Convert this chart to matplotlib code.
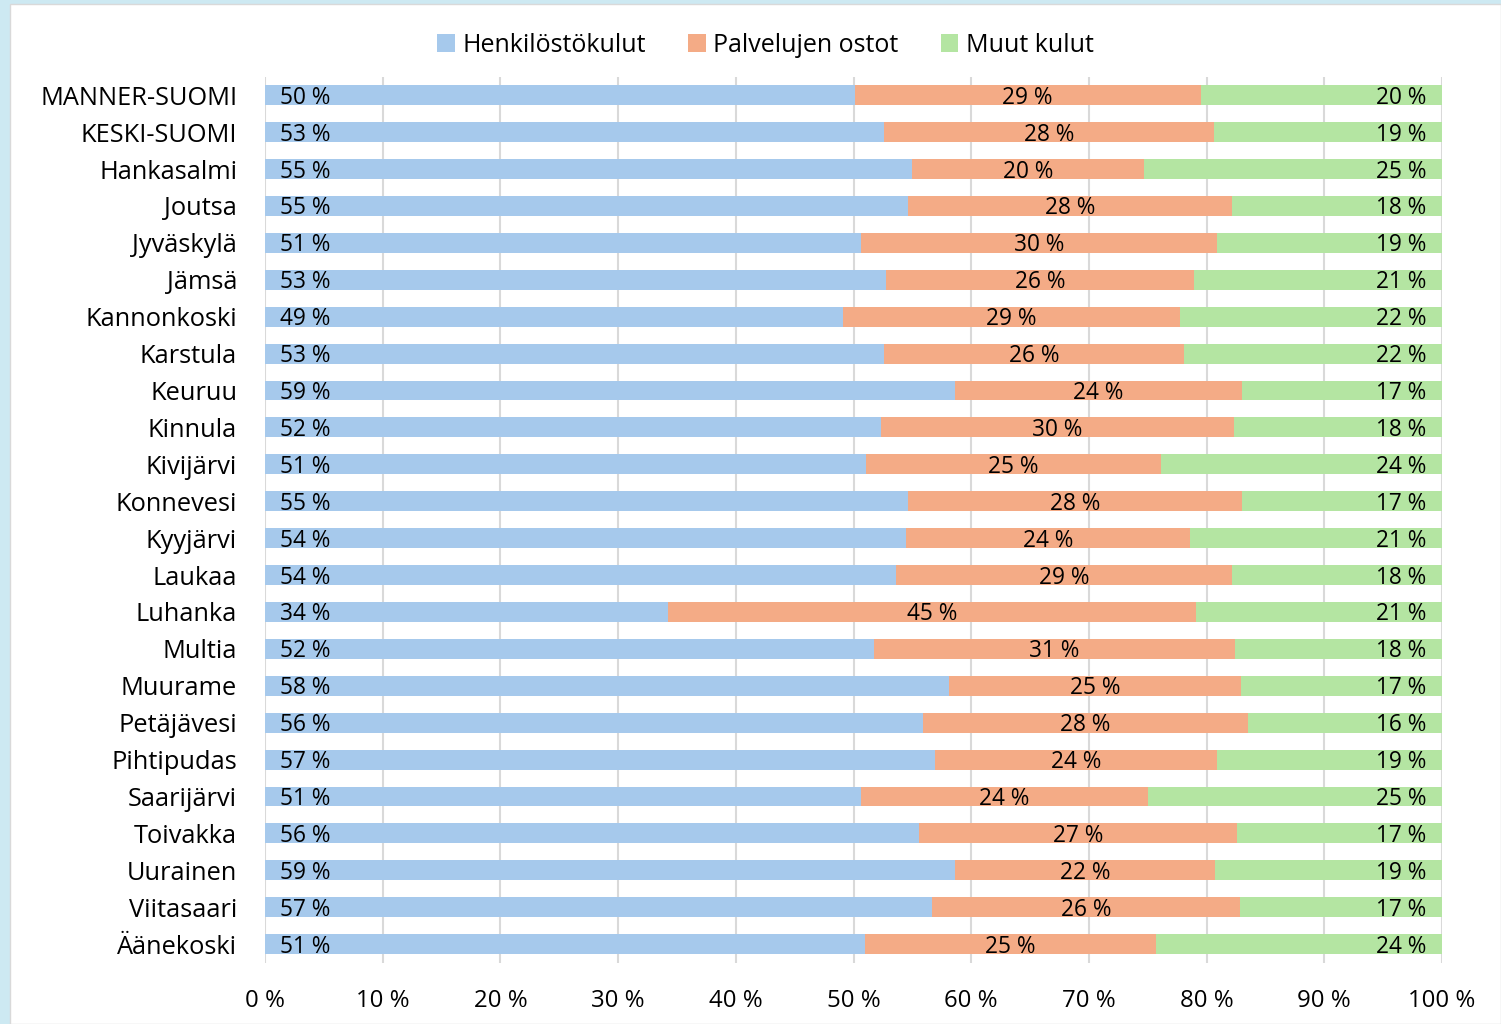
import matplotlib
matplotlib.use("Agg")
import matplotlib.pyplot as plt
from matplotlib.patches import Rectangle
from matplotlib.ticker import FuncFormatter

matplotlib.rcParams['font.family'] = ['Open Sans', 'DejaVu Sans']

kunnat = ["MANNER-SUOMI", "KESKI-SUOMI", "Hankasalmi", "Joutsa", "Jyväskylä", "Jämsä",
          "Kannonkoski", "Karstula", "Keuruu", "Kinnula", "Kivijärvi", "Konnevesi",
          "Kyyjärvi", "Laukaa", "Luhanka", "Multia", "Muurame", "Petäjävesi",
          "Pihtipudas", "Saarijärvi", "Toivakka", "Uurainen", "Viitasaari", "Äänekoski"]

henkilosto = [50.1, 52.6, 55.0, 54.6, 50.6, 52.8, 49.1, 52.6, 58.6, 52.3, 51.1, 54.6,
              54.5, 53.6, 34.2, 51.7, 58.1, 55.9, 56.9, 50.6, 55.6, 58.6, 56.7, 51.0]
palvelut = [29.4, 28.0, 19.7, 27.6, 30.3, 26.1, 28.6, 25.5, 24.4, 30.0, 25.0, 28.4,
            24.1, 28.6, 44.9, 30.7, 24.8, 27.6, 24.0, 24.4, 27.0, 22.1, 26.1, 24.7]
muut = [20.5, 19.4, 25.3, 17.8, 19.1, 21.1, 22.3, 21.9, 17.0, 17.7, 23.9, 17.0,
        21.4, 17.8, 20.9, 17.6, 17.1, 16.5, 19.1, 25.0, 17.4, 19.3, 17.2, 24.3]

sarjat = ["Henkilöstökulut", "Palvelujen ostot", "Muut kulut"]
varit = ["#a6c9ec", "#f4ab86", "#b4e5a2"]

fig = plt.figure(figsize=(15.01, 10.24), dpi=100)
fig.patch.set_facecolor("#cde9f2")
tausta = Rectangle((10/1501, 0), 1 - 10/1501, 1 - 4/1024, transform=fig.transFigure,
                   facecolor="white", edgecolor="#d9d9d9", lw=1, zorder=-10)
fig.patches.append(tausta)

ax = fig.add_axes([265/1501, 0.060, 1177/1501, 0.865])
ax.set_facecolor("none")

y = list(range(len(kunnat)))
left = [0] * len(kunnat)
for vals, nimi, vari in zip([henkilosto, palvelut, muut], sarjat, varit):
    ax.barh(y, vals, left=left, height=0.54, color=vari, label=nimi, zorder=2)
    left = [l + v for l, v in zip(left, vals)]

fs = 16.3
dy = -1.8  # teksti hieman palkin keskikohdan alapuolelle
for i in y:
    ax.annotate("{:.0f} %".format(henkilosto[i]), xy=(0, i), xytext=(11, dy),
                textcoords="offset points", ha="left", va="center", fontsize=fs, zorder=3)
    ax.annotate("{:.0f} %".format(palvelut[i]), xy=(henkilosto[i] + palvelut[i] / 2, i),
                xytext=(0, dy), textcoords="offset points",
                ha="center", va="center", fontsize=fs, zorder=3)
    ax.annotate("{:.0f} %".format(muut[i]), xy=(100, i), xytext=(-11, dy),
                textcoords="offset points", ha="right", va="center", fontsize=fs, zorder=3)

ax.set_xlim(0, 100)
ax.set_ylim(len(kunnat) - 0.5, -0.5)
ax.set_xticks(range(0, 101, 10))
ax.xaxis.set_major_formatter(FuncFormatter(lambda v, p: "{:.0f} %".format(v)))
ax.set_yticks(y)
ax.set_yticklabels(kunnat)
ax.tick_params(axis="y", length=0, pad=20, labelsize=18.3)
ax.tick_params(axis="x", length=0, pad=19, labelsize=17.3)
ax.grid(True, axis="x", color="#d9d9d9", lw=1.5, zorder=0)
for s in ax.spines.values():
    s.set_visible(False)

fig.legend(loc="upper center", bbox_to_anchor=(0.51, 0.99), ncol=3, frameon=False,
           fontsize=18, handlelength=0.7, handleheight=0.7, handletextpad=0.3,
           columnspacing=1.7)

fig.savefig("out.png", dpi=100)
plt.close(fig)
